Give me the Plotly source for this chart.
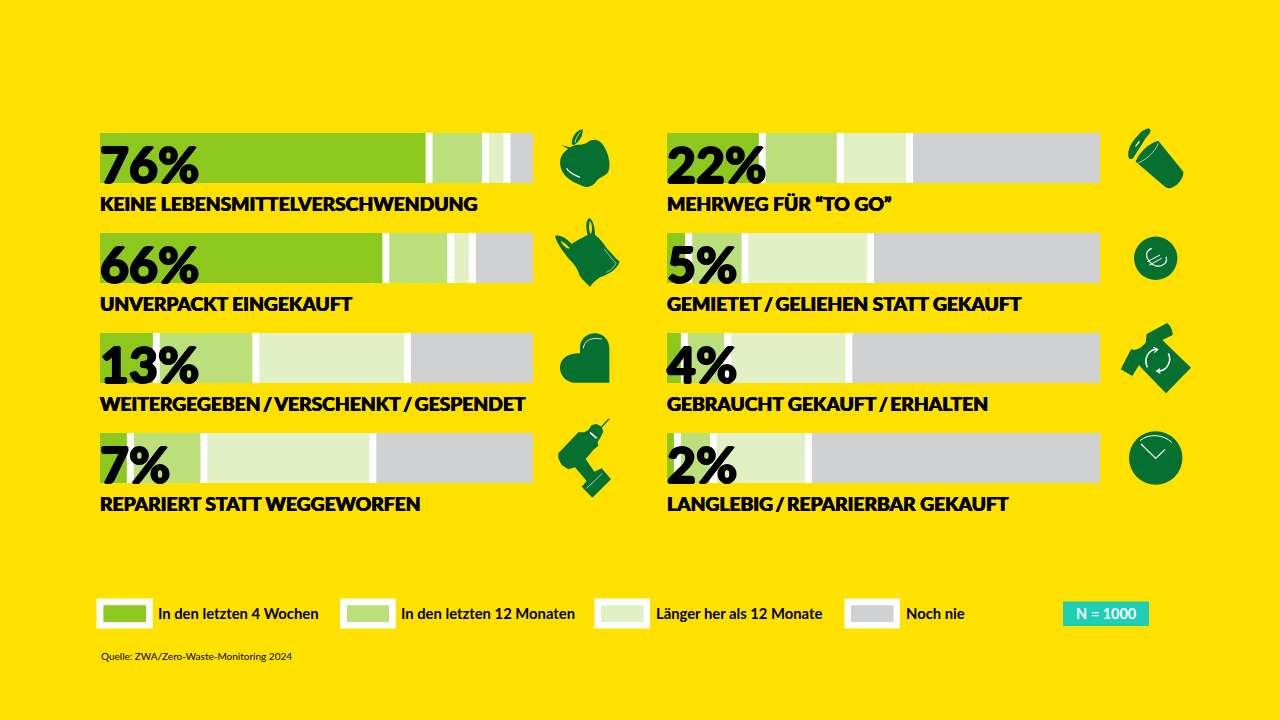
#!/usr/bin/env python3
import re

import plotly.graph_objects as go

WIDTH = 1280
HEIGHT = 720

left_categories = [
    "KEINE LEBENSMITTELVERSCHWENDUNG",
    "UNVERPACKT EINGEKAUFT",
    "WEITERGEGEBEN / VERSCHENKT / GESPENDET",
    "REPARIERT STATT WEGGEWORFEN",
]
right_categories = [
    "MEHRWEG FÜR “TO GO”",
    "GEMIETET / GELIEHEN STATT GEKAUFT",
    "GEBRAUCHT GEKAUFT / ERHALTEN",
    "LANGLEBIG / REPARIERBAR GEKAUFT",
]
left_percent_labels = ["76%", "66%", "13%", "7%"]
right_percent_labels = ["22%", "5%", "4%", "2%"]

series_names = [
    "In den letzten 4 Wochen",
    "In den letzten 12 Monaten",
    "Länger her als 12 Monate",
    "Noch nie",
]
series_colors = ["#8DC81F", "#BBDF7B", "#E2F0C6", "#D0D1D3"]

left_weeks = [76, 66, 13, 7]
left_months = [13, 15, 23, 17]
left_longer = [5, 5, 35, 39]
left_never = [6, 14, 29, 37]

right_weeks = [22, 5, 4, 2.4]
right_months = [18, 13, 10, 8.3]
right_longer = [16, 29, 28, 22]
right_never = [44, 53, 58, 67.3]

sample_note = "N = 1000"
source_note = "Quelle: ZWA/Zero-Waste-Monitoring 2024"

BG = "#FFE100"
ICON = "#05702F"
TEAL = "#1ECFB3"
# Lato tops out lighter than the reference face, so a tight shadow thickens the strokes.
BIG_FONT = dict(family="Lato", size=50, color="black", weight=900,
                shadow="1px 0 0 black, -1px 0 0 black, 0 1px 0 black, 0 -1px 0 black")
LABEL_FONT = dict(family="Lato", size=19.25, color="black", weight=900,
                  shadow="0.4px 0 0 black, -0.4px 0 0 black")
LEGEND_FONT = dict(family="Lato", size=14.8, color="black", weight=700)


def px_x(x):
    return x / WIDTH


def px_y(y):
    return 1 - y / HEIGHT


def add_bars(fig, xaxis, yaxis, categories, columns):
    # Each segment starts where the previous one ended; the white separators sit on the boundaries.
    bases = [0] * len(categories)
    boundaries = []
    for name, color, values in zip(series_names, series_colors, columns):
        fig.add_trace(
            go.Bar(
                y=categories,
                x=values,
                base=bases,
                orientation="h",
                name=name,
                width=0.5,
                marker=dict(color=color, line=dict(width=0)),
                xaxis=xaxis,
                yaxis=yaxis,
                showlegend=False,
            )
        )
        bases = [b + v for b, v in zip(bases, values)]
        boundaries.append(bases)
    for edge in boundaries[:-1]:
        fig.add_trace(
            go.Bar(
                y=categories,
                x=[1.6] * len(categories),
                base=[e - 0.8 for e in edge],
                orientation="h",
                width=0.5,
                marker=dict(color="white", line=dict(width=0)),
                xaxis=xaxis,
                yaxis=yaxis,
                showlegend=False,
                hoverinfo="skip",
            )
        )


def add_texts(fig, xaxis, yaxis, categories, percents):
    for category, percent in zip(categories, percents):
        fig.add_annotation(
            x=0, y=category, xref=xaxis, yref=yaxis, text=percent, showarrow=False,
            xanchor="left", yanchor="middle", xshift=-1, yshift=-6, font=BIG_FONT, borderpad=0,
        )
        fig.add_annotation(
            x=0, y=category, xref=xaxis, yref=yaxis, text=category.replace(" / ", "\u2009/\u2009"),
            showarrow=False, xanchor="left", yanchor="middle", xshift=-1, yshift=-45, font=LABEL_FONT, borderpad=0,
        )


def icon_path(raw, ox, oy):
    # Icon outlines were traced on a 3x crop, so scale back and move into paper space.
    numbers = iter(re.findall(r"[A-Za-z]|-?\d+\.?\d*", raw))
    out = []
    for token in numbers:
        if token.isalpha():
            out.append(token)
        else:
            x = px_x(ox + float(token) / 3)
            y = px_y(oy + float(next(numbers)) / 3)
            out.append(f"{x:.5f},{y:.5f}")
    return " ".join(out)


def fill_icon(raw, ox, oy, color=ICON):
    return dict(
        type="path", xref="paper", yref="paper", path=icon_path(raw, ox, oy),
        fillcolor=color, line=dict(width=0), layer="above",
    )


def stroke_icon(raw, ox, oy, color="white", width=1.0):
    return dict(
        type="path", xref="paper", yref="paper", path=icon_path(raw, ox, oy),
        fillcolor="rgba(0,0,0,0)", line=dict(color=color, width=width), layer="above",
    )


def circle(cx, cy, r):
    return dict(
        type="circle", xref="paper", yref="paper",
        x0=px_x(cx - r), x1=px_x(cx + r), y0=px_y(cy + r), y1=px_y(cy - r),
        fillcolor=ICON, line=dict(width=0), layer="above",
    )


def rect(x0, y0, x1, y1, color):
    return dict(
        type="rect", xref="paper", yref="paper",
        x0=px_x(x0), x1=px_x(x1), y0=px_y(y1), y1=px_y(y0),
        fillcolor=color, line=dict(width=0), layer="above",
    )


def icon_shapes():
    shapes = []
    # apple
    shapes.append(fill_icon("M75 82 C90 70 110 78 125 68 C145 52 165 58 178 80 C192 105 198 135 190 155 C180 170 165 170 155 182 C145 198 130 205 112 198 C90 188 70 182 55 160 C42 140 42 115 55 100 C62 92 68 88 75 82 Z", 545, 120))
    shapes.append(fill_icon("M80 72 C80 50 95 30 113 27 C115 50 100 68 85 76 Z", 545, 120))
    shapes.append(fill_icon("M48 75 L84 84 L80 92 Z", 545, 120))
    shapes.append(stroke_icon("M65 145 C72 160 90 165 105 172", 545, 120, width=1.2))
    shapes.append(stroke_icon("M90 68 C93 52 100 42 108 35", 545, 120, color="#BBDF7B", width=1))
    # bag
    shapes.append(fill_icon("M30 348 C45 342 65 355 80 372 C100 358 115 352 128 345 C122 325 122 300 132 295 C142 295 150 320 150 345 C165 355 175 370 185 385 C200 400 212 415 224 425 C215 450 190 462 165 472 C150 482 142 490 135 501 C125 490 112 480 103 465 C98 445 85 430 70 415 C55 395 35 370 30 348 Z", 545, 120))
    shapes.append(fill_icon("M47 362 C55 365 70 378 75 385 C65 388 52 375 47 362 Z", 545, 120, color=BG))
    shapes.append(fill_icon("M135 302 C130 315 132 335 137 342 C143 335 142 312 135 302 Z", 545, 120, color=BG))
    shapes.append(stroke_icon("M178 387 C190 405 205 420 213 430 C205 445 195 452 184 457", 545, 120, color="#BFE0C0", width=0.8))
    # heart
    shapes.append(fill_icon("M150 25 C175 25 193 45 193 70 L193 173 L90 173 C65 173 45 152 45 128 C45 103 65 85 105 85 L105 65 C107 42 125 25 150 25 Z", 545, 325))
    shapes.append(stroke_icon("M115 70 C117 50 135 35 170 42", 545, 325, color="#D6E8D6", width=1))
    # drill
    shapes.append(fill_icon("M40 385 L100 322 L118 322 L130 315 L140 300 L155 297 L170 305 L175 320 L165 340 L158 350 L160 362 L145 375 L122 402 L148 440 L170 430 L198 463 L142 518 L110 485 L125 468 L90 427 L70 433 L50 420 L40 400 Z", 545, 325))
    shapes.append(stroke_icon("M170 305 L192 282", 545, 325, color=ICON, width=1.5))
    shapes.append(stroke_icon("M135 322 L155 340", 545, 325, width=1.5))
    shapes.append(stroke_icon("M125 490 L172 445", 545, 325, color="#D6E8D6", width=0.8))
    # cup
    shapes.append(fill_icon("M40 110 C38 90 45 70 70 45 C78 33 90 28 100 25 C108 28 108 33 105 38 L92 55 L55 113 C50 120 42 118 40 110 Z", 1115, 120))
    shapes.append(fill_icon("M60 78 L72 62 L75 66 L63 80 Z", 1115, 120, color="#E8F4E8"))
    shapes.append(fill_icon("M62 125 C70 100 100 70 130 62 L205 155 C207 175 185 200 165 205 C160 205 155 203 150 200 Z", 1115, 120))
    shapes.append(stroke_icon("M67 130 C95 120 120 95 130 70", 1115, 120, color="#D6E8D6", width=0.8))
    # euro coin
    shapes.append(circle(1155.7, 258.3, 21.7))
    shapes.append(stroke_icon("M110 385 C95 390 90 405 100 420 C110 438 135 445 150 430 C155 423 155 415 153 410", 1115, 120, width=1.2))
    shapes.append(stroke_icon("M97 425 L135 405", 1115, 120, width=1))
    shapes.append(stroke_icon("M103 435 L140 415", 1115, 120, width=1))
    # shirt
    shapes.append(fill_icon("M17 148 L48 88 C60 92 75 88 92 68 L95 42 L155 10 C163 10 175 35 173 45 L142 60 L228 143 L153 220 L80 145 L72 135 L52 168 Z", 1115, 320))
    shapes.append(stroke_icon("M97 142 C85 115 100 90 125 88", 1115, 320, width=1.5))
    shapes.append(stroke_icon("M160 100 C172 125 155 155 125 153", 1115, 320, width=1.5))
    shapes.append(stroke_icon("M115 82 L128 88 L118 98", 1115, 320, width=1.2))
    shapes.append(stroke_icon("M135 146 L125 153 L136 160", 1115, 320, width=1.2))
    # clock
    shapes.append(circle(1155.7, 458, 26.7))
    shapes.append(stroke_icon("M75 362 C100 340 145 342 170 367", 1115, 320, width=1))
    shapes.append(stroke_icon("M78 372 L122 415 L150 388", 1115, 320, width=1.2))
    return shapes


def legend_shapes():
    boxes = [(96.5, 152.7, 103.4, 146), (340, 395.8, 347, 389), (594.4, 650, 601, 643.5), (844.5, 900, 851, 893.6)]
    shapes = []
    for (x0, x1, ix0, ix1), color in zip(boxes, series_colors):
        shapes.append(rect(x0, 598.5, x1, 628.5, "white"))
        shapes.append(rect(ix0, 605.3, ix1, 622, color))
    shapes.append(rect(1063, 601.5, 1149, 626, TEAL))
    return shapes


def add_legend_texts(fig):
    for name, x in zip(series_names, [157, 400, 655, 905]):
        fig.add_annotation(
            x=px_x(x), y=px_y(612.5), xref="paper", yref="paper", text=name, showarrow=False,
            xanchor="left", yanchor="middle", font=LEGEND_FONT, borderpad=0,
        )
    fig.add_annotation(
        x=px_x(1106), y=px_y(613), xref="paper", yref="paper", text=sample_note, showarrow=False,
        xanchor="center", yanchor="middle", font=dict(family="Lato", size=14.5, color="white", weight=700), borderpad=0,
    )
    fig.add_annotation(
        x=px_x(100), y=px_y(656), xref="paper", yref="paper", text=source_note, showarrow=False,
        xanchor="left", yanchor="middle", font=dict(family="Lato", size=10, color="black"), borderpad=0,
    )


fig = go.Figure()
add_bars(fig, "x", "y", left_categories, [left_weeks, left_months, left_longer, left_never])
add_bars(fig, "x2", "y2", right_categories, [right_weeks, right_months, right_longer, right_never])
add_texts(fig, "x", "y", left_categories, left_percent_labels)
add_texts(fig, "x2", "y2", right_categories, right_percent_labels)
add_legend_texts(fig)

hidden = dict(showgrid=False, zeroline=False, showticklabels=False, ticks="", showline=False)
fig.update_layout(
    width=WIDTH,
    height=HEIGHT,
    margin=dict(l=0, r=0, t=0, b=0),
    paper_bgcolor=BG,
    plot_bgcolor=BG,
    barmode="overlay",
    showlegend=False,
    xaxis=dict(domain=[px_x(100), px_x(533)], range=[0, 100], **hidden),
    xaxis2=dict(domain=[px_x(667), px_x(1100)], range=[0, 100], anchor="y2", **hidden),
    yaxis=dict(domain=[px_y(508), px_y(108)], type="category", categoryorder="array", categoryarray=left_categories, range=[3.5, -0.5], **hidden),
    yaxis2=dict(domain=[px_y(508), px_y(108)], type="category", categoryorder="array", categoryarray=right_categories, range=[3.5, -0.5], anchor="x2", **hidden),
    shapes=icon_shapes() + legend_shapes(),
)

fig.write_html(
    "out.html",
    config={"displayModeBar": False},
    post_script="document.body.style.margin='0';document.body.style.overflow='hidden';",
)
